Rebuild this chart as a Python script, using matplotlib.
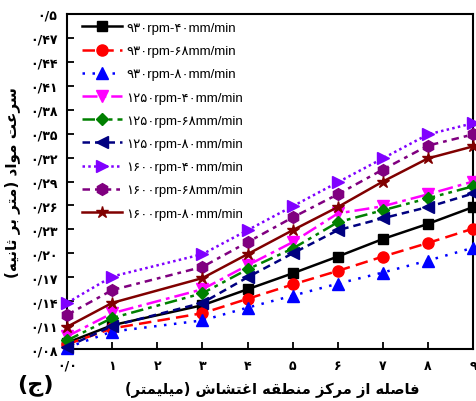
import numpy as np
import matplotlib
matplotlib.use('Agg')
import matplotlib.pyplot as plt

# distance from the stir zone centre (mm)
x = [0, 1, 3, 4, 5, 6, 7, 8, 9]

# material velocity (m/s), one list per rpm / feed combination
v930_40 = [0.088, 0.110, 0.135, 0.155, 0.175, 0.196, 0.218, 0.237, 0.258]
v930_68 = [0.086, 0.106, 0.125, 0.143, 0.161, 0.178, 0.196, 0.213, 0.231]
v930_80 = [0.082, 0.102, 0.116, 0.132, 0.147, 0.162, 0.176, 0.191, 0.207]
v1250_40 = [0.096, 0.125, 0.155, 0.185, 0.214, 0.250, 0.259, 0.274, 0.290]
v1250_68 = [0.091, 0.119, 0.150, 0.180, 0.206, 0.239, 0.254, 0.269, 0.284]
v1250_80 = [0.083, 0.109, 0.138, 0.170, 0.200, 0.229, 0.244, 0.258, 0.275]
v1600_40 = [0.138, 0.171, 0.199, 0.229, 0.259, 0.289, 0.319, 0.349, 0.363]
v1600_68 = [0.123, 0.154, 0.183, 0.214, 0.245, 0.274, 0.305, 0.335, 0.349]
v1600_80 = [0.108, 0.138, 0.169, 0.199, 0.229, 0.258, 0.290, 0.319, 0.334]

labels = ['۹۳۰rpm-۴۰mm/min', '۹۳۰rpm-۶۸mm/min', '۹۳۰rpm-۸۰mm/min',
          '۱۲۵۰rpm-۴۰mm/min', '۱۲۵۰rpm-۶۸mm/min', '۱۲۵۰rpm-۸۰mm/min',
          '۱۶۰۰rpm-۴۰mm/min', '۱۶۰۰rpm-۶۸mm/min', '۱۶۰۰rpm-۸۰mm/min']

xticks = [0, 1, 2, 3, 4, 5, 6, 7, 8, 9]
xticklabels = ['۰/۰', '۱', '۲', '۳', '۴', '۵', '۶', '۷', '۸', '۹']
yticks = [0.08, 0.11, 0.14, 0.17, 0.20, 0.23, 0.26, 0.29, 0.32, 0.35,
          0.38, 0.41, 0.44, 0.47, 0.50]
yticklabels = ['۰/۰۸', '۰/۱۱', '۰/۱۴', '۰/۱۷', '۰/۲۰', '۰/۲۳', '۰/۲۶', '۰/۲۹',
               '۰/۳۲', '۰/۳۵', '۰/۳۸', '۰/۴۱', '۰/۴۴', '۰/۴۷', '۰/۵']

xlabel = 'فاصله از مرکز منطقه اغتشاش (میلیمتر)'
ylabel = 'سرعت مواد (متر بر ثانیه)'
panel = '(ج)'

# isolated, final, initial, medial presentation forms
FORMS = {
    'ا': ('\ufe8d', '\ufe8e', None, None),
    'ب': ('\ufe8f', '\ufe90', '\ufe91', '\ufe92'),
    'ت': ('\ufe95', '\ufe96', '\ufe97', '\ufe98'),
    'ث': ('\ufe99', '\ufe9a', '\ufe9b', '\ufe9c'),
    'ج': ('\ufe9d', '\ufe9e', '\ufe9f', '\ufea0'),
    'د': ('\ufea9', '\ufeaa', None, None),
    'ر': ('\ufead', '\ufeae', None, None),
    'ز': ('\ufeaf', '\ufeb0', None, None),
    'س': ('\ufeb1', '\ufeb2', '\ufeb3', '\ufeb4'),
    'ش': ('\ufeb5', '\ufeb6', '\ufeb7', '\ufeb8'),
    'ص': ('\ufeb9', '\ufeba', '\ufebb', '\ufebc'),
    'ط': ('\ufec1', '\ufec2', '\ufec3', '\ufec4'),
    'ع': ('\ufec9', '\ufeca', '\ufecb', '\ufecc'),
    'غ': ('\ufecd', '\ufece', '\ufecf', '\ufed0'),
    'ف': ('\ufed1', '\ufed2', '\ufed3', '\ufed4'),
    'ق': ('\ufed5', '\ufed6', '\ufed7', '\ufed8'),
    'ک': ('\ufb8e', '\ufb8f', '\ufb90', '\ufb91'),
    'ل': ('\ufedd', '\ufede', '\ufedf', '\ufee0'),
    'م': ('\ufee1', '\ufee2', '\ufee3', '\ufee4'),
    'ن': ('\ufee5', '\ufee6', '\ufee7', '\ufee8'),
    'ه': ('\ufee9', '\ufeea', '\ufeeb', '\ufeec'),
    'و': ('\ufeed', '\ufeee', None, None),
    'ی': ('\ufbfc', '\ufbfd', '\ufbfe', '\ufbff'),
}


def shape_fa(text):
    """join persian letters and put them in visual (left to right) order"""
    out = []
    for i, ch in enumerate(text):
        if ch not in FORMS:
            out.append(ch)
            continue
        prev = text[i - 1] if i > 0 else ''
        nxt = text[i + 1] if i + 1 < len(text) else ''
        join_prev = prev in FORMS and FORMS[prev][2] is not None
        join_next = nxt in FORMS and FORMS[ch][2] is not None
        iso, fin, ini, med = FORMS[ch]
        if join_prev and join_next:
            out.append(med)
        elif join_prev:
            out.append(fin)
        elif join_next:
            out.append(ini)
        else:
            out.append(iso)
    s = ''.join(out)[::-1]
    return s.translate(str.maketrans('()', ')('))


plt.rcParams['font.family'] = ['DejaVu Sans']

fig = plt.figure(figsize=(4.76, 4.02), dpi=100)
ax = fig.add_axes([0.141, 0.129, 0.853, 0.834])

series = [v930_40, v930_68, v930_80, v1250_40, v1250_68, v1250_80,
          v1600_40, v1600_68, v1600_80]
colors = ['black', '#ff0000', '#0000ff', '#ff00ff', '#008000', '#000080',
          '#8000ff', '#800080', '#800000']
markers = ['s', 'o', '^', 'v', 'D', '<', '>', 'h', '*']
msizes = [7, 8, 8, 8, 6.5, 8, 8, 8.5, 9]
styles = ['-', (0, (5, 2.5)), (0, (1, 3)), (0, (6, 2, 1.5, 2)),
          (0, (5, 2, 1.5, 2, 1.5, 2)), (0, (3, 2)), (0, (1, 1.3)),
          (0, (3, 2, 1.5, 2)), '-']

for ys, c, m, ms, ls, lab in zip(series, colors, markers, msizes, styles, labels):
    ax.plot(x, ys, color=c, marker=m, markersize=ms, linestyle=ls,
            linewidth=1.8, label=lab, clip_on=False, zorder=3)

ax.set_xlim(0, 9)
ax.set_ylim(0.08, 0.5)
ax.set_xticks(xticks)
ax.set_xticklabels(xticklabels, fontsize=9, fontweight='bold')
ax.set_yticks(yticks)
ax.set_yticklabels(yticklabels, fontsize=9, fontweight='bold')
ax.tick_params(direction='in', length=5, width=1.3, pad=7)
for sp in ax.spines.values():
    sp.set_linewidth(1.5)

leg = ax.legend(loc='upper left', bbox_to_anchor=(0.016, 1.0), frameon=False,
                handlelength=3.1, handletextpad=0.3, labelspacing=0.83,
                borderaxespad=0.3, borderpad=0.3,
                prop={'family': ['Liberation Sans', 'DejaVu Sans'], 'size': 9.5})

ax.set_xlabel(shape_fa(xlabel), fontsize=10.5, fontweight='bold')
ax.xaxis.set_label_coords(0.505, -0.095)
ax.set_ylabel(shape_fa(ylabel), fontsize=11, fontweight='bold')
ax.yaxis.set_label_coords(-0.115, 0.50)
fig.text(0.075, 0.042, shape_fa(panel), fontsize=16, fontweight='bold',
         ha='center', va='center')

fig.savefig('out.png', dpi=100)
